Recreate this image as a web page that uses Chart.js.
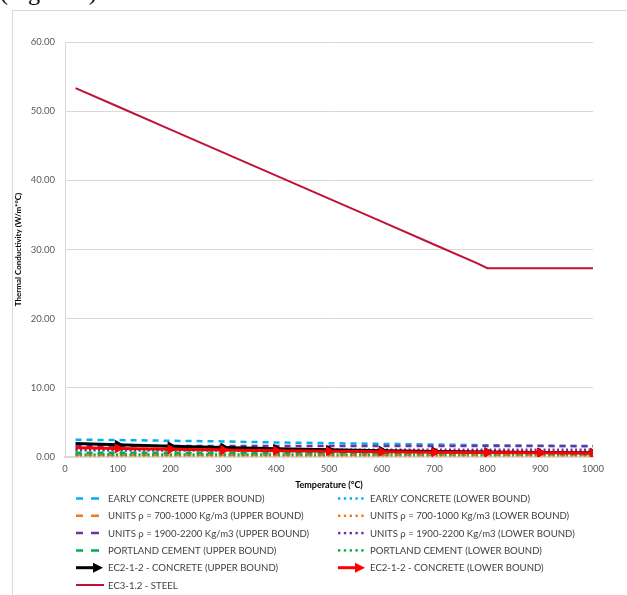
<!DOCTYPE html>
<html>
<head>
<meta charset="utf-8">
<script src="https://cdn.jsdelivr.net/npm/chart.js@4/dist/chart.umd.min.js"></script>
<style>
  body { margin: 0; background: #fff; width: 627px; height: 595px; overflow: hidden; position: relative; }
  #cap { position: absolute; left: 0; top: -21px; font: 24px "Liberation Serif", serif; color: #000; }
  #frame { position: absolute; left: 12px; top: 10px; width: 640px; height: 620px; border: 1px solid #d9d9d9; }
  #wrap { position: absolute; left: 12px; top: 11px; width: 615px; height: 584px; }
</style>
</head>
<body>
<div id="cap">(Figure 3).</div>
<div id="frame"></div>
<div id="wrap"><canvas id="chart"></canvas></div>
<script>
// temperatures (°C)
var temps = [20, 100, 200, 300, 400, 500, 600, 700, 800, 900, 1000];
var steelTemps = [20, 100, 200, 300, 400, 500, 600, 700, 780, 800, 900, 1000];

// thermal conductivity (W/m*°C)
var earlyUpper   = [2.50, 2.45, 2.35, 2.25, 2.10, 2.00, 1.90, 1.80, 1.70, 1.62, 1.55];
var earlyLower   = [0.95, 0.92, 0.90, 0.88, 0.85, 0.82, 0.80, 0.78, 0.76, 0.75, 0.75];
var units700Up   = [0.30, 0.30, 0.30, 0.30, 0.30, 0.30, 0.30, 0.30, 0.30, 0.30, 0.30];
var units700Low  = [0.20, 0.20, 0.20, 0.20, 0.20, 0.20, 0.20, 0.20, 0.20, 0.20, 0.20];
var units1900Up  = [1.60, 1.60, 1.60, 1.60, 1.60, 1.60, 1.60, 1.60, 1.60, 1.60, 1.60];
var units1900Low = [1.05, 1.05, 1.05, 1.05, 1.05, 1.05, 1.05, 1.05, 1.05, 1.05, 1.05];
var portlandUp   = [0.60, 0.60, 0.60, 0.60, 0.60, 0.60, 0.60, 0.60, 0.60, 0.60, 0.60];
var portlandLow  = [0.35, 0.35, 0.35, 0.35, 0.35, 0.35, 0.35, 0.35, 0.35, 0.35, 0.35];
var ec2Upper = [1.95, 1.77, 1.55, 1.36, 1.19, 1.04, 0.92, 0.81, 0.72, 0.66, 0.62];
var ec2Lower = [1.33, 1.23, 1.11, 1.00, 0.91, 0.82, 0.75, 0.69, 0.64, 0.60, 0.57];
var steel = [53.33, 50.67, 47.34, 44.01, 40.68, 37.35, 34.02, 30.69, 28.03, 27.30, 27.30, 27.30];

var yTicks = [0, 10, 20, 30, 40, 50, 60];
var xTicks = [0, 100, 200, 300, 400, 500, 600, 700, 800, 900, 1000];

var FONT = 'Lato, "Liberation Sans", sans-serif';
var DASH = [6, 5];
var DOT = [2, 2.5];

function pts(xs, ys) {
  return xs.map(function (x, i) { return { x: x, y: ys[i] }; });
}

var series = [
  { label: 'EARLY CONCRETE (UPPER BOUND)', t: temps, v: earlyUpper, color: '#00B0F0', kind: 'dash' },
  { label: 'EARLY CONCRETE (LOWER BOUND)', t: temps, v: earlyLower, color: '#00B0F0', kind: 'dot' },
  { label: 'UNITS ρ = 700-1000 Kg/m3 (UPPER BOUND)', t: temps, v: units700Up, color: '#F07A22', kind: 'dash' },
  { label: 'UNITS ρ = 700-1000 Kg/m3 (LOWER BOUND)', t: temps, v: units700Low, color: '#F07A22', kind: 'dot' },
  { label: 'UNITS ρ = 1900-2200 Kg/m3 (UPPER BOUND)', t: temps, v: units1900Up, color: '#7030A0', kind: 'dash' },
  { label: 'UNITS ρ = 1900-2200 Kg/m3 (LOWER BOUND)', t: temps, v: units1900Low, color: '#7030A0', kind: 'dot' },
  { label: 'PORTLAND CEMENT (UPPER BOUND)', t: temps, v: portlandUp, color: '#00B050', kind: 'dash' },
  { label: 'PORTLAND CEMENT (LOWER BOUND)', t: temps, v: portlandLow, color: '#00B050', kind: 'dot' },
  { label: 'EC2-1-2 - CONCRETE (UPPER BOUND)', t: temps, v: ec2Upper, color: '#000000', kind: 'arrow' },
  { label: 'EC2-1-2 - CONCRETE (LOWER BOUND)', t: temps, v: ec2Lower, color: '#FF0000', kind: 'arrow' },
  { label: 'EC3-1.2 - STEEL', t: steelTemps, v: steel, color: '#BE1238', kind: 'solid' }
];

var datasets = series.map(function (s, i) {
  var arrow = s.kind == 'arrow';
  return {
    label: s.label,
    data: pts(s.t, s.v),
    borderColor: s.color,
    backgroundColor: s.color,
    borderWidth: arrow ? 3 : (s.kind == 'solid' ? 2 : 2.5),
    borderDash: s.kind == 'dash' ? DASH : (s.kind == 'dot' ? DOT : []),
    pointStyle: 'triangle',
    rotation: 90,
    pointRadius: arrow ? s.t.map(function (t, j) { return j == 0 ? 0 : 5; }) : 0,
    pointBorderWidth: 1,
    pointHoverRadius: 0,
    showLine: true,
    fill: false,
    tension: 0,
    order: series.length - i, // later series on top, like the original
    kind: s.kind
  };
});

// two-column legend + x title under the plot
var bottomLegend = {
  id: 'bottomLegend',
  afterDraw: function (chart) {
    var ctx = chart.ctx;
    var area = chart.chartArea;
    ctx.save();
    ctx.fillStyle = '#000';
    ctx.font = 'bold 9px ' + FONT;
    ctx.textAlign = 'center';
    ctx.textBaseline = 'middle';
    ctx.fillText('Temperature (°C)', (area.left + area.right) / 2, 474);

    ctx.font = '9.6px ' + FONT;
    ctx.textAlign = 'left';
    var colX = [64, 326];
    var rowY = 487.5, rowH = 17.3;
    chart.data.datasets.forEach(function (ds, i) {
      var col = i % 2, row = Math.floor(i / 2);
      var x = colX[col], y = rowY + row * rowH;
      ctx.strokeStyle = ds.borderColor;
      ctx.fillStyle = ds.borderColor;
      ctx.lineWidth = ds.borderWidth;
      ctx.setLineDash([]);
      if (ds.kind == 'dash') {
        ctx.beginPath();
        ctx.moveTo(x, y); ctx.lineTo(x + 7, y);
        ctx.moveTo(x + 15, y); ctx.lineTo(x + 23, y);
        ctx.stroke();
      } else if (ds.kind == 'dot') {
        for (var k = 0; k < 5; k++) {
          ctx.fillRect(x + k * 5.8, y - 1.2, 2.4, 2.4);
        }
      } else if (ds.kind == 'arrow') {
        ctx.beginPath();
        ctx.moveTo(x, y); ctx.lineTo(x + 22, y);
        ctx.stroke();
        ctx.beginPath();
        ctx.moveTo(x + 17, y - 5); ctx.lineTo(x + 27, y); ctx.lineTo(x + 17, y + 5);
        ctx.closePath();
        ctx.fill();
      } else {
        ctx.beginPath();
        ctx.moveTo(x, y); ctx.lineTo(x + 28, y);
        ctx.stroke();
      }
      ctx.fillStyle = '#404040';
      ctx.fillText(ds.label, x + 32, y + 0.5);
    });
    ctx.restore();
  }
};

var chart = new Chart(document.getElementById('chart'), {
  type: 'line',
  data: { datasets: datasets },
  options: {
    responsive: true,
    maintainAspectRatio: false,
    animation: false,
    layout: { padding: { top: 31, right: 34, left: 0, bottom: 0 } },
    plugins: { legend: { display: false }, tooltip: { enabled: false } },
    scales: {
      x: {
        type: 'linear',
        min: 0,
        max: 1000,
        afterBuildTicks: function (axis) { axis.ticks = xTicks.map(function (v) { return { value: v }; }); },
        afterFit: function (axis) { axis.height = 138; },
        grid: { display: false, drawTicks: false },
        border: { color: '#d9d9d9', width: 1.5 },
        ticks: {
          font: { family: FONT, size: 9.5 },
          color: '#595959',
          padding: 6,
          maxRotation: 0,
          callback: function (v) { return String(v); }
        }
      },
      y: {
        min: 0,
        max: 60,
        afterBuildTicks: function (axis) { axis.ticks = yTicks.map(function (v) { return { value: v }; }); },
        afterFit: function (axis) { axis.width = 53; },
        grid: { color: '#d9d9d9', lineWidth: 1, drawTicks: false },
        border: { color: '#d9d9d9', width: 1 },
        ticks: {
          font: { family: FONT, size: 9.5 },
          color: '#595959',
          padding: 10,
          callback: function (v) { return v.toFixed(2); }
        },
        title: {
          display: true,
          text: 'Thermal Conductivity (W/m*°C)',
          font: { family: FONT, size: 8, weight: 'bold' },
          color: '#000',
          padding: { top: 2, bottom: 0 }
        }
      }
    }
  },
  plugins: [bottomLegend]
});
</script>
</body>
</html>
